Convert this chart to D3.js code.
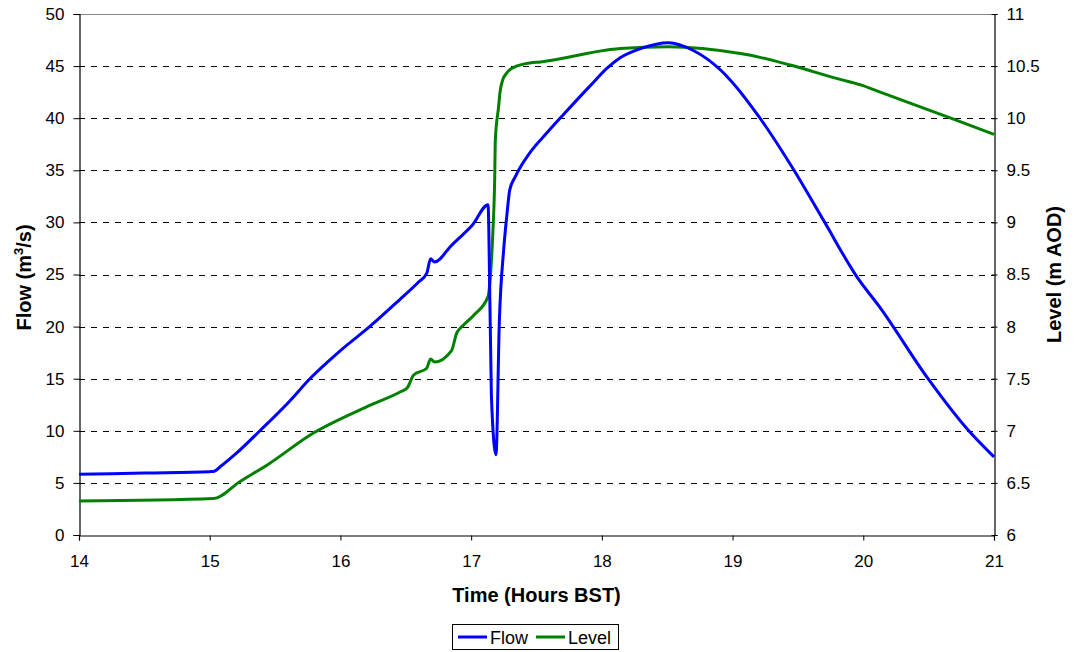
<!DOCTYPE html>
<html>
<head>
<meta charset="utf-8">
<script src="https://cdn.jsdelivr.net/npm/d3@7"></script>
<style>
  html, body { margin: 0; padding: 0; background: #fff; }
  svg { display: block; font-family: "Liberation Sans", Arial, sans-serif; }
</style>
</head>
<body>
<svg id="chart" width="1076" height="652"></svg>
<script>
// ---- Data ----
const flowTime = [14.0, 14.5, 15.0, 15.03, 15.08, 15.2, 15.39, 15.6, 15.77, 16.0, 16.23, 16.45, 16.6, 16.66, 16.69, 16.72, 16.85, 16.9, 17.01, 17.13, 17.135, 17.155, 17.19, 17.216, 17.249, 17.275, 17.295, 17.338, 17.45, 17.58, 17.71, 17.91, 18.04, 18.14, 18.3, 18.51, 18.7, 18.91, 18.98, 19.21, 19.47, 19.7, 19.95, 20.13, 20.49, 20.8, 21.0];
const flowValues = [5.82, 5.95, 6.08, 6.1, 6.55, 7.8, 10.08, 12.7, 15.04, 17.7, 20.06, 22.55, 24.3, 25.1, 26.5, 26.2, 27.8, 28.4, 29.75, 31.7, 29.5, 13.3, 7.7, 20.6, 27.4, 30.9, 33.1, 34.4, 36.7, 38.6, 40.4, 43.1, 44.8, 45.8, 46.7, 47.25, 46.5, 44.6, 43.7, 40.0, 35.0, 30.1, 24.8, 21.8, 15.1, 10.1, 7.5];

const levelTime = [14.0, 15.03, 15.23, 15.44, 15.79, 16.2, 16.46, 16.51, 16.56, 16.66, 16.69, 16.72, 16.85, 16.89, 16.93, 17.02, 17.13, 17.145, 17.167, 17.18, 17.185, 17.21, 17.22, 17.245, 17.27, 17.3, 17.33, 17.45, 17.53, 18.04, 18.14, 18.51, 19.06, 19.21, 19.44, 19.83, 19.98, 20.13, 20.67, 21.0];
const levelValues = [6.326, 6.35, 6.512, 6.672, 6.976, 7.23, 7.375, 7.41, 7.535, 7.6, 7.69, 7.66, 7.77, 7.94, 8.0, 8.11, 8.29, 8.45, 8.93, 9.41, 9.79, 10.11, 10.24, 10.38, 10.43, 10.47, 10.49, 10.53, 10.54, 10.655, 10.67, 10.686, 10.62, 10.584, 10.51, 10.37, 10.32, 10.25, 10.0, 9.845];

const xTicks = [14, 15, 16, 17, 18, 19, 20, 21];
const flowTicks = [0, 5, 10, 15, 20, 25, 30, 35, 40, 45, 50];
const levelTicks = [6, 6.5, 7, 7.5, 8, 8.5, 9, 9.5, 10, 10.5, 11];
const seriesNames = ["Flow", "Level"];
const seriesColors = ["#0000FF", "#008000"];

// ---- Layout ----
const svg = d3.select("#chart");
const L = 79, R = 994, T = 14, B = 535;

const x = d3.scaleLinear().domain([14, 21]).range([L, R]);
const yF = d3.scaleLinear().domain([0, 50]).range([B, T]);
const yL = d3.scaleLinear().domain([6, 11]).range([B, T]);

// gridlines
svg.append("g").selectAll("line")
  .data(flowTicks.filter(d => d > 0 && d < 50))
  .join("line")
  .attr("x1", L).attr("x2", R)
  .attr("y1", d => Math.round(yF(d)) + 0.5).attr("y2", d => Math.round(yF(d)) + 0.5)
  .attr("stroke", "#000").attr("stroke-width", 1)
  .attr("stroke-dasharray", "6,6");

// top border
svg.append("line").attr("x1", L).attr("x2", R).attr("y1", T + 0.5).attr("y2", T + 0.5)
  .attr("stroke", "#888").attr("stroke-width", 1);

// axes
const tickFont = "17px";
const gLeft = svg.append("g").attr("transform", `translate(${L + 0.5},0)`)
  .call(d3.axisLeft(yF).tickValues(flowTicks).tickSize(6).tickPadding(9).tickFormat(d3.format("d")));
const gRight = svg.append("g").attr("transform", `translate(${R + 0.5},0)`)
  .call(d3.axisRight(yL).tickValues(levelTicks).tickSize(3).tickPadding(9).tickFormat(d => String(d)));
gRight.selectAll(".tick line").attr("x1", -3);
const gBottom = svg.append("g").attr("transform", `translate(0,${B + 0.5})`)
  .call(d3.axisBottom(x).tickValues(xTicks).tickSize(5).tickPadding(14).tickFormat(d3.format("d")));

[gLeft, gRight, gBottom].forEach(g => {
  g.select(".domain").attr("stroke", "#000").attr("stroke-width", 1.2);
  g.selectAll(".tick line").attr("stroke", "#000");
  g.selectAll(".tick text").attr("fill", "#000")
    .style("font-size", tickFont)
    .style("font-family", '"Liberation Sans", Arial, sans-serif');
});

// lines
const flowData = flowTime.map((t, i) => [t, flowValues[i]]);
const levelData = levelTime.map((t, i) => [t, levelValues[i]]);

svg.append("path").datum(levelData)
  .attr("fill", "none").attr("stroke", seriesColors[1]).attr("stroke-width", 3)
  .attr("stroke-linejoin", "round")
  .attr("d", d3.line().x(d => x(d[0])).y(d => yL(d[1])).curve(d3.curveMonotoneX));

svg.append("path").datum(flowData)
  .attr("fill", "none").attr("stroke", seriesColors[0]).attr("stroke-width", 3)
  .attr("stroke-linejoin", "round")
  .attr("d", d3.line().x(d => x(d[0])).y(d => yF(d[1])).curve(d3.curveMonotoneX));

// axis titles
const midY = (T + B) / 2;
const leftTitle = svg.append("text")
  .attr("transform", `translate(31,${midY + 3}) rotate(-90)`)
  .attr("text-anchor", "middle")
  .style("font-size", "20px").style("font-weight", "bold");
leftTitle.append("tspan").text("Flow (m");
leftTitle.append("tspan").attr("dy", -8).style("font-size", "13px").text("3");
leftTitle.append("tspan").attr("dy", 8).text("/s)");

svg.append("text")
  .attr("transform", `translate(1061,${midY}) rotate(-90)`)
  .attr("text-anchor", "middle")
  .style("font-size", "20px").style("font-weight", "bold")
  .text("Level (m AOD)");

svg.append("text")
  .attr("x", (L + R) / 2).attr("y", 602)
  .attr("text-anchor", "middle")
  .style("font-size", "20px").style("font-weight", "bold")
  .text("Time (Hours BST)");

// legend
const lg = svg.append("g");
lg.append("rect").attr("x", 452.5).attr("y", 624.5).attr("width", 166).attr("height", 25)
  .attr("fill", "#fff").attr("stroke", "#000").attr("stroke-width", 1);
const legendX = [458, 536];
seriesNames.forEach((name, i) => {
  lg.append("line").attr("x1", legendX[i]).attr("x2", legendX[i] + 29)
    .attr("y1", 637).attr("y2", 637)
    .attr("stroke", seriesColors[i]).attr("stroke-width", 3);
  lg.append("text").attr("x", legendX[i] + 32).attr("y", 643.5)
    .style("font-size", "18px").text(name);
});
</script>
</body>
</html>
